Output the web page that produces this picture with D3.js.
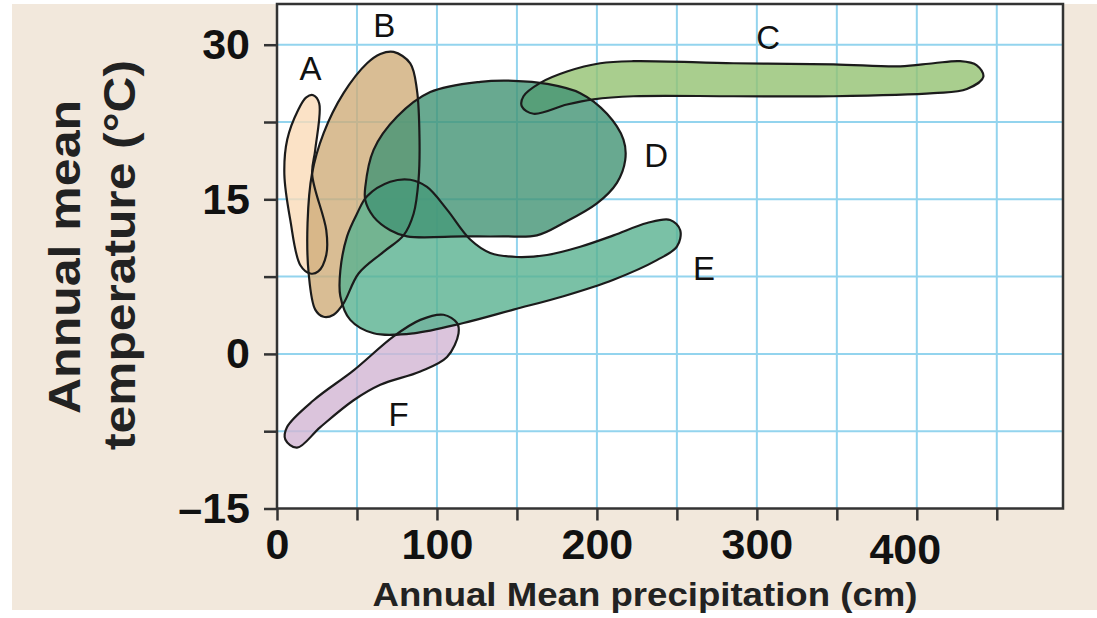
<!DOCTYPE html>
<html>
<head>
<meta charset="utf-8">
<script src="https://cdn.jsdelivr.net/npm/d3@7"></script>
<style>
  html, body { margin: 0; padding: 0; background: #ffffff; }
  svg { display: block; }
</style>
</head>
<body>
<svg id="chart" width="1097" height="618"></svg>
<script>
// ---------- data (precipitation cm, temperature °C) ----------
const biomeNames = ["A", "B", "C", "D", "E", "F"];

const biomeA = [[22.7,25.1],[26.4,24.3],[23.9,19.8],[22,17.4],[30.8,12.0],[30.8,9.6],[25.8,8.0],[20.8,7.8],[14.6,8.6],[8.3,13.0],[4.6,17.4],[6.4,20.8],[13.3,23.7],[18.3,24.9]];
const biomeB = [[72.9,29.3],[83.3,28.2],[87.5,25.6],[89.1,20.8],[88.5,16.9],[85.4,13.6],[79.1,11.5],[66.6,9.9],[51.0,7.8],[41.6,4.9],[35.4,3.8],[29.1,3.6],[23.9,4.3],[19.8,7.8],[19.1,12.7],[21.9,17.5],[29.1,21.4],[41.6,25.3],[56.3,28.2],[64.6,29.1]];
const biomeC = [[153.1,24.0],[160.4,23.3],[181.3,24.2],[197.9,24.7],[222.9,25.0],[285.4,25.0],[347.9,25.0],[410.4,25.3],[431.3,25.7],[441.6,26.9],[437.5,28.0],[427.1,28.4],[410.4,28.2],[389.6,27.9],[347.9,28.1],[285.4,28.2],[222.9,28.4],[202.1,28.2],[181.3,27.4],[164.6,26.3],[154.1,25.0]];
const biomeD = [[55.2,16.2],[60.4,19.8],[75.0,23.0],[95.8,25.4],[127.1,26.4],[147.9,26.5],[168.8,26.2],[189.6,25.3],[206.3,23.3],[216.6,20.8],[217.7,18.8],[212.5,16.6],[200,14.6],[179.1,12.7],[162.5,11.5],[141.6,11.4],[116.6,11.4],[81.3,11.4],[70.8,12.0],[60.4,13.3],[55.2,14.9]];
const biomeE = [[56.3,15.3],[70.8,16.7],[83.3,16.9],[93.8,16.2],[106.3,14.0],[120.8,11.1],[133.3,9.8],[150,9.4],[168.8,9.6],[189.6,10.4],[210.4,11.5],[231.3,12.7],[245.8,13.0],[252.1,12.0],[250,10.4],[237.5,9.1],[210.4,7.2],[179.1,5.6],[147.9,4.3],[116.6,3.0],[85.4,2.0],[60.4,2.0],[45.8,3.3],[39.6,5.6],[39.6,8.1],[43.8,11.4],[50,13.6]];
const biomeF = [[104.1,3.8],[112.5,3.0],[113.5,2.0],[106.3,-0.3],[89.6,-1.7],[64.6,-3.0],[47.9,-4.5],[27.1,-7.1],[12.5,-9.1],[5.2,-8.3],[6.3,-7.1],[22.9,-4.5],[47.9,-1.6],[72.9,1.7],[89.6,3.3]];

// label anchor points (precipitation, temperature)
const labelPoints = [[21,26.6],[67,30.7],[307,29.6],[237,18.1],[267,7.2],[76,-7.0]];

const xTickValues = [0, 50, 100, 150, 200, 250, 300, 350, 400, 450];
const xTickLabels = [0, 100, 200, 300, 400];
const yTickValues = [-15, -7.5, 0, 7.5, 15, 22.5, 30];
const yTickLabels = [-15, 0, 15, 30];

const xTitle = "Annual Mean precipitation  (cm)";
const yTitle1 = "Annual mean";
const yTitle2 = "temperature (\u00B0C)";

// ---------- drawing ----------
const svg = d3.select("#chart");
const W = 1097, H = 618;
const plot = { left: 277, right: 1063, top: 4, bottom: 508.5 };

const x = d3.scaleLinear().domain([0, 491.4]).range([plot.left, plot.right]);
const y = d3.scaleLinear().domain([-15, 33.95]).range([plot.bottom, plot.top]);

// page background
svg.append("rect").attr("x", 12).attr("y", 4).attr("width", W - 12).attr("height", 606)
  .attr("fill", "#f2e8dc");

// plot background
svg.append("rect").attr("x", plot.left).attr("y", plot.top)
  .attr("width", plot.right - plot.left).attr("height", plot.bottom - plot.top)
  .attr("fill", "#ffffff");

// grid
const grid = svg.append("g").attr("stroke", "#93d4ee").attr("stroke-width", 2);
grid.selectAll("line.vx").data(xTickValues.filter(v => v > 0)).join("line")
  .attr("x1", d => x(d)).attr("x2", d => x(d)).attr("y1", plot.top).attr("y2", plot.bottom);
grid.selectAll("line.hy").data(yTickValues.filter(v => v > -15)).join("line")
  .attr("x1", plot.left).attr("x2", plot.right).attr("y1", d => y(d)).attr("y2", d => y(d));

// biomes (drawing order: A, B, C, F, E, D)
const biomes = [
  { name: "A", pts: biomeA, fill: "rgb(250,219,184)" },
  { name: "B", pts: biomeB, fill: "rgb(207,173,121)" },
  { name: "C", pts: biomeC, fill: "rgb(148,194,114)" },
  { name: "F", pts: biomeF, fill: "rgb(210,181,211)" },
  { name: "E", pts: biomeE, fill: "rgb(89,178,144)" },
  { name: "D", pts: biomeD, fill: "rgb(66,148,116)" }
];
const line = d3.line().x(d => x(d[0])).y(d => y(d[1])).curve(d3.curveCatmullRomClosed.alpha(0.5));

const fills = svg.append("g");
fills.selectAll("path").data(biomes).join("path")
  .attr("d", d => line(d.pts))
  .attr("fill", d => d.fill)
  .attr("fill-opacity", 0.8);
const outlines = svg.append("g");
outlines.selectAll("path").data(biomes).join("path")
  .attr("d", d => line(d.pts))
  .attr("fill", "none")
  .attr("stroke", "#1b1b1b")
  .attr("stroke-width", 2.2);

// frame
svg.append("rect").attr("x", plot.left).attr("y", plot.top)
  .attr("width", plot.right - plot.left).attr("height", plot.bottom - plot.top)
  .attr("fill", "none").attr("stroke", "#333").attr("stroke-width", 2.5);

// axes
const xAxis = d3.axisBottom(x).tickValues(xTickValues).tickSize(12).tickSizeOuter(0)
  .tickFormat(d => xTickLabels.includes(d) ? d : "").tickPadding(8);
const gx = svg.append("g").attr("transform", `translate(0,${plot.bottom})`).call(xAxis);
gx.select(".domain").remove();
gx.selectAll(".tick line").attr("stroke", "#333").attr("stroke-width", 2.5);
gx.selectAll(".tick text").attr("fill", "#111")
  .style("font-family", "'Liberation Sans', Arial, sans-serif")
  .style("font-weight", "bold").style("font-size", "43px")
  .filter(d => d === 400).attr("dx", -12).attr("dy", "0.83em");

const fmtY = d => d < 0 ? "\u2013" + Math.abs(d) : String(d);
const yAxis = d3.axisLeft(y).tickValues(yTickValues).tickSize(13).tickSizeOuter(0)
  .tickFormat(d => yTickLabels.includes(d) ? fmtY(d) : "").tickPadding(14);
const gy = svg.append("g").attr("transform", `translate(${plot.left},0)`).call(yAxis);
gy.select(".domain").remove();
gy.selectAll(".tick line").attr("stroke", "#333").attr("stroke-width", 2.5);
gy.selectAll(".tick text").attr("fill", "#111")
  .style("font-family", "'Liberation Sans', Arial, sans-serif")
  .style("font-weight", "bold").style("font-size", "43px");

// biome labels
svg.append("g").selectAll("text").data(biomeNames).join("text")
  .attr("x", (d, i) => x(labelPoints[i][0]))
  .attr("y", (d, i) => y(labelPoints[i][1]))
  .attr("text-anchor", "middle")
  .style("font-family", "'Liberation Sans', Arial, sans-serif")
  .style("font-size", "33px")
  .attr("fill", "#111")
  .text(d => d);

// axis titles
svg.append("text").attr("x", 645).attr("y", 606).attr("text-anchor", "middle")
  .style("font-family", "'Liberation Sans', Arial, sans-serif")
  .style("font-weight", "bold").style("font-size", "34px").attr("fill", "#222")
  .attr("textLength", 545).attr("lengthAdjust", "spacingAndGlyphs")
  .text(xTitle);

const yt = svg.append("g").attr("transform", "translate(80,257) rotate(-90)");
yt.append("text").attr("x", 0).attr("y", 0).attr("text-anchor", "middle")
  .style("font-family", "'Liberation Sans', Arial, sans-serif")
  .style("font-weight", "bold").style("font-size", "45px").attr("fill", "#222")
  .attr("textLength", 314).attr("lengthAdjust", "spacingAndGlyphs")
  .text(yTitle1);
yt.append("text").attr("x", 2).attr("y", 55).attr("text-anchor", "middle")
  .style("font-family", "'Liberation Sans', Arial, sans-serif")
  .style("font-weight", "bold").style("font-size", "45px").attr("fill", "#222")
  .attr("textLength", 390).attr("lengthAdjust", "spacingAndGlyphs")
  .text(yTitle2);
</script>
</body>
</html>
